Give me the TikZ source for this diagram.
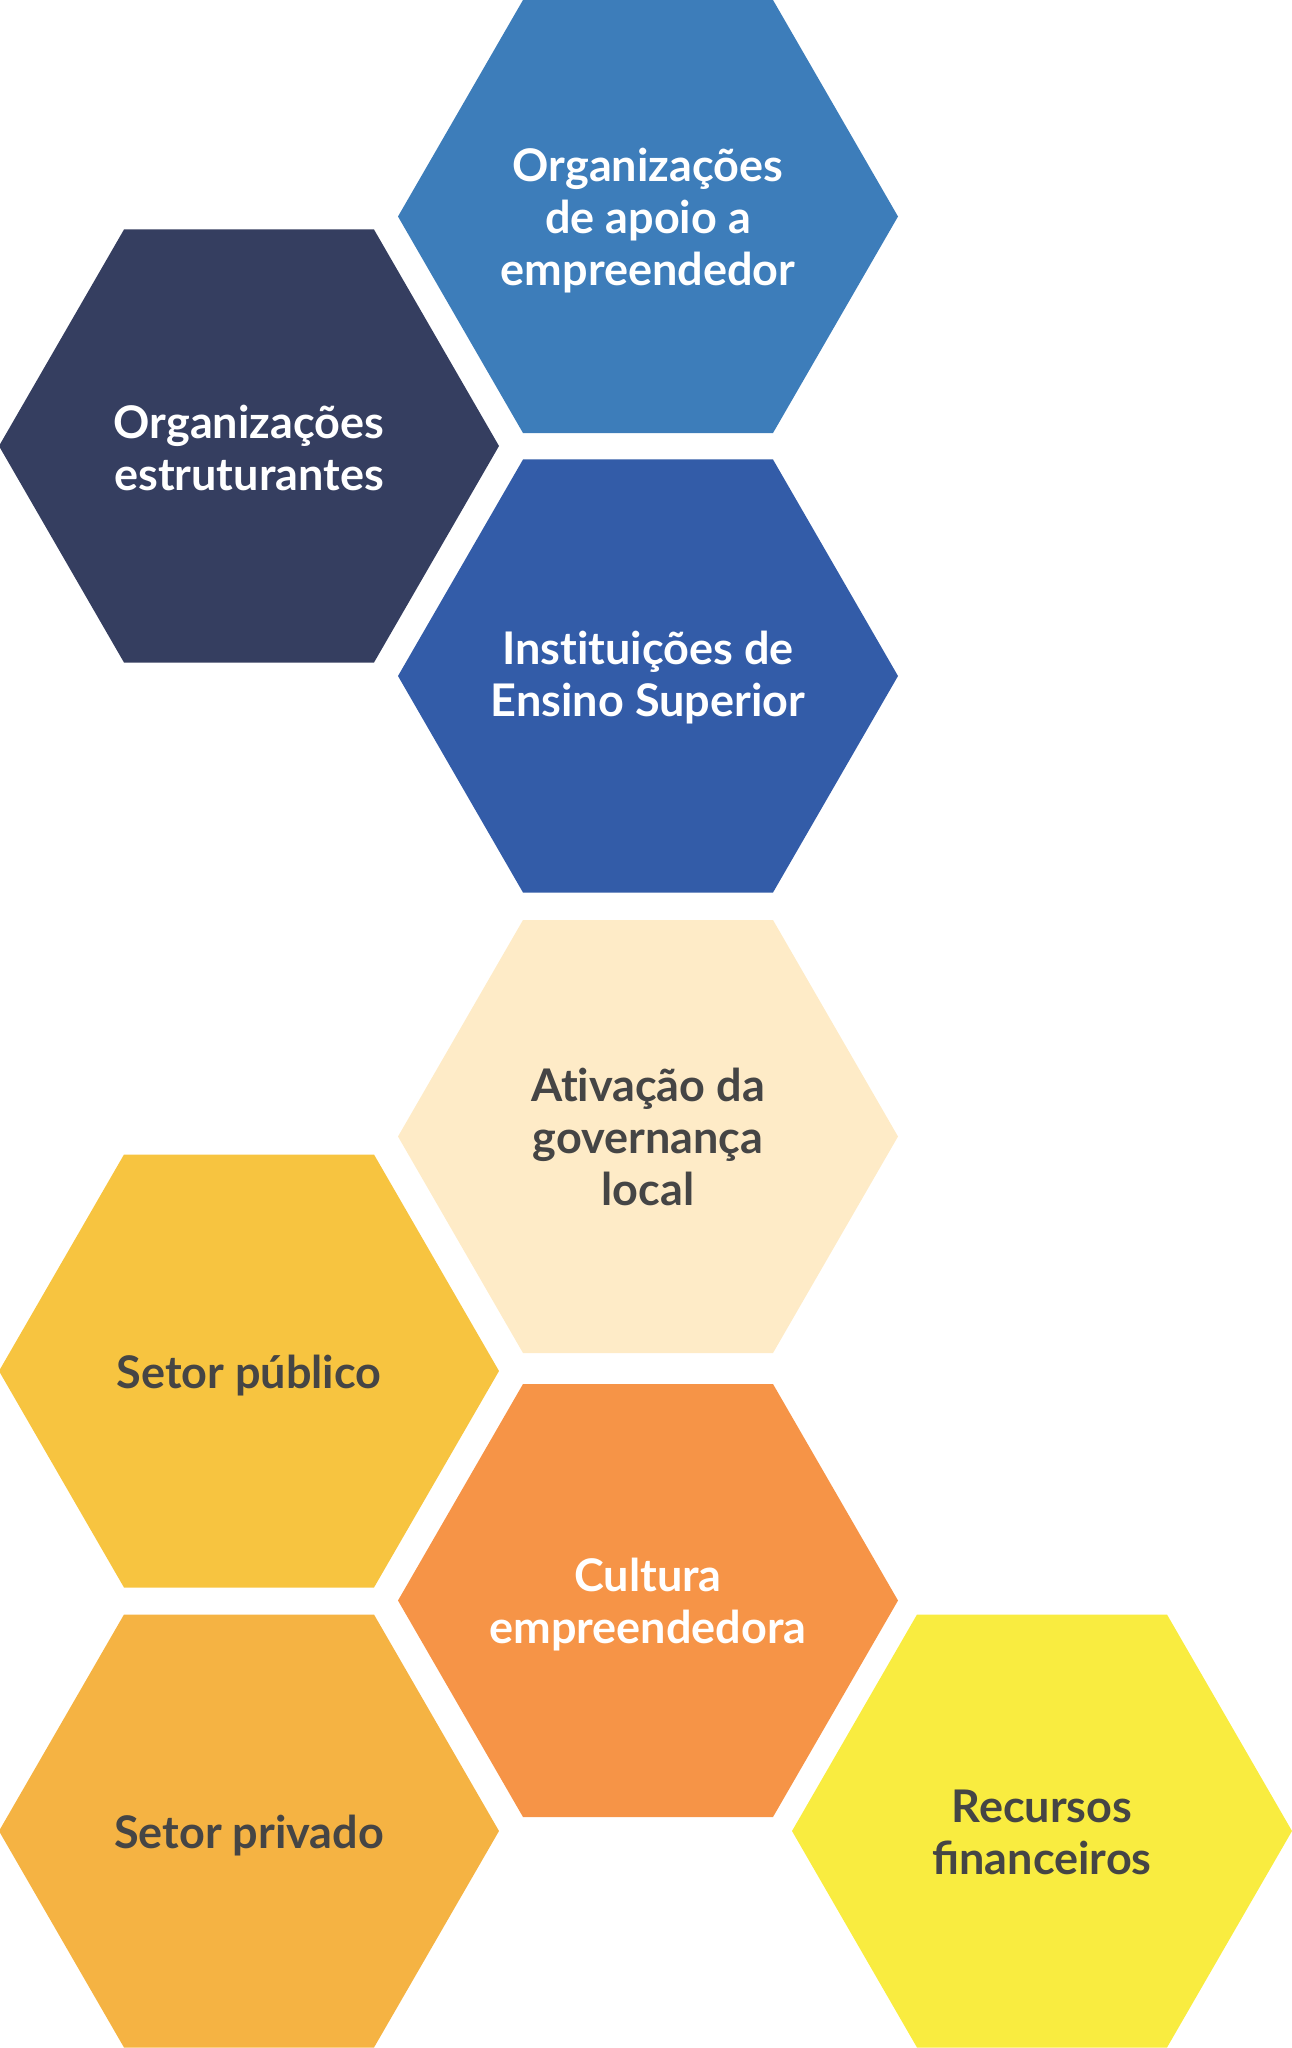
\documentclass[tikz,border=0pt]{standalone}
\usepackage{fontspec}
\setmainfont{Lato}[RawFeature=-liga]
\usetikzlibrary{shapes.geometric}
\definecolor{cA}{HTML}{3D7DBA}
\definecolor{cB}{HTML}{353E60}
\definecolor{cC}{HTML}{335CA8}
\definecolor{cD}{HTML}{FEEBC7}
\definecolor{cE}{HTML}{F7C440}
\definecolor{cF}{HTML}{F69447}
\definecolor{cG}{HTML}{F5B343}
\definecolor{cH}{HTML}{F9EC40}
\definecolor{txtdark}{HTML}{454545}
\begin{document}
\begin{tikzpicture}[x=1pt,y=-1pt,
  hexa/.style={regular polygon, regular polygon sides=6, minimum size=500pt,
    inner sep=0pt, draw=none},
  lbl/.style={inner sep=0pt, align=center,
    font=\fontsize{45}{52}\selectfont\bfseries},
  light/.style={lbl, text=white},
  dark/.style={lbl, text=txtdark}]
\useasboundingbox (0,0) rectangle (1292,2048);
\node[hexa, fill=cA] (h1) at (648,216.5) {};
\node[hexa, fill=cB] (h2) at (249,446) {};
\node[hexa, fill=cC] (h3) at (648,676) {};
\node[hexa, fill=cD] (h4) at (648,1136.5) {};
\node[hexa, fill=cE] (h5) at (249,1371) {};
\node[hexa, fill=cF] (h6) at (648,1600.5) {};
\node[hexa, fill=cG] (h7) at (249,1831) {};
\node[hexa, fill=cH] (h8) at (1042,1831) {};
\node[light] (t1) at ([yshift=-4pt]h1.center) {Organizações\\de apoio a\\empreendedor};
\node[light] (t2) at ([yshift=-2pt]h2.center) {Organizações\\estruturantes};
\node[light] (t3) at ([yshift=-2pt]h3.center) {Instituições de\\Ensino Superior};
\node[dark] (t4) at ([yshift=0pt]h4.center) {Ativação da\\governança\\local};
\node[dark] (t5) at ([yshift=-5pt]h5.center) {Setor público};
\node[light] (t6) at ([yshift=-4pt]h6.center) {Cultura\\empreendedora};
\node[dark] (t7) at ([yshift=-5pt]h7.center) {Setor privado};
\node[dark] (t8) at ([yshift=-1pt]h8.center) {Recursos\\ﬁnanceiros};
\end{tikzpicture}
\end{document}
